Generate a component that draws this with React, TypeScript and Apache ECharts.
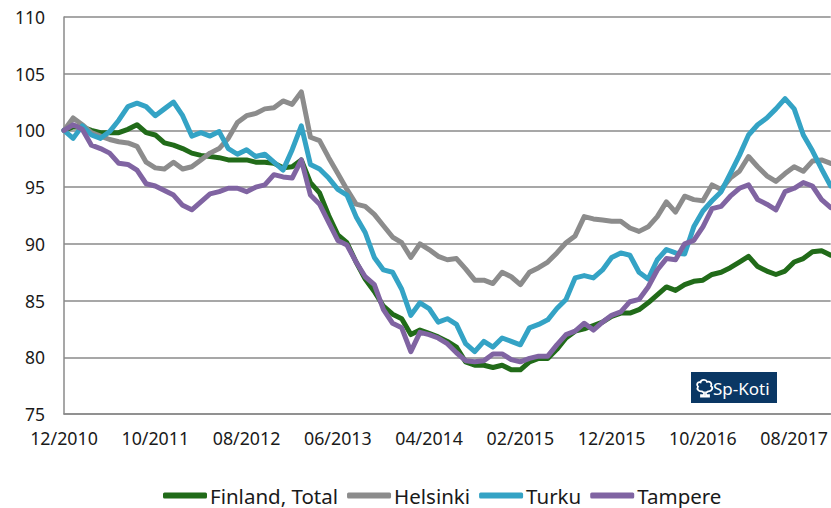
import React, { useEffect, useRef } from "react";
import * as echarts from "echarts";

// Months 12/2010 .. 12/2017
const startYear = 2010;
const startMonth = 12;
const monthCount = 85;
const categories: string[] = [];
for (let k = 0; k < monthCount; k++) {
  const m0 = startMonth - 1 + k;
  const y = startYear + Math.floor(m0 / 12);
  const m = (m0 % 12) + 1;
  categories.push((m < 10 ? "0" + m : "" + m) + "/" + y);
}

const yTicks = { min: 75, max: 110, step: 5 };

const finland = [
  100.0, 100.3, 100.3, 100.0, 99.8, 99.8, 99.8, 100.1, 100.5, 99.8,
  99.6, 98.9, 98.7, 98.4, 98.0, 97.8, 97.7, 97.6, 97.4, 97.4,
  97.4, 97.2, 97.2, 97.1, 96.7, 96.8, 97.4, 95.4, 94.5, 92.5,
  90.8, 90.1, 88.4, 86.9, 85.8, 84.5, 83.8, 83.4, 82.0, 82.4,
  82.1, 81.8, 81.4, 80.9, 79.6, 79.3, 79.3, 79.1, 79.3, 78.9,
  78.9, 79.6, 79.9, 79.9, 80.7, 81.7, 82.3, 82.5, 82.8, 83.1,
  83.6, 83.9, 83.9, 84.2, 84.8, 85.5, 86.2, 85.9, 86.4, 86.7,
  86.8, 87.3, 87.5, 87.9, 88.4, 88.9, 88.0, 87.6, 87.3, 87.6,
  88.4, 88.7, 89.3, 89.4, 89.0,
];

const helsinki = [
  100.0, 101.1, 100.5, 99.8, 99.5, 99.2, 99.0, 98.9, 98.6, 97.2,
  96.7, 96.6, 97.2, 96.6, 96.8, 97.4, 98.0, 98.4, 99.3, 100.7,
  101.3, 101.5, 101.9, 102.0, 102.6, 102.3, 103.4, 99.4, 99.1, 97.6,
  96.2, 94.8, 93.5, 93.3, 92.6, 91.6, 90.6, 90.1, 88.8, 90.0,
  89.5, 88.9, 88.6, 88.7, 87.8, 86.8, 86.8, 86.5, 87.5, 87.1,
  86.4, 87.5, 87.9, 88.4, 89.2, 90.1, 90.7, 92.4, 92.2, 92.1,
  92.0, 92.0, 91.4, 91.1, 91.5, 92.4, 93.7, 92.8, 94.2, 93.9,
  93.8, 95.2, 94.8, 95.8, 96.4, 97.7, 96.8, 96.0, 95.5, 96.2,
  96.8, 96.4, 97.3, 97.4, 97.1,
];

const turku = [
  100.0, 99.3, 100.4, 99.6, 99.3, 99.9, 100.9, 102.1, 102.4, 102.1,
  101.3, 101.9, 102.5, 101.3, 99.5, 99.8, 99.5, 99.9, 98.4, 97.9,
  98.3, 97.7, 97.9, 97.2, 96.5, 98.3, 100.4, 97.0, 96.6, 95.8,
  94.8, 94.3, 92.4, 91.0, 88.8, 87.7, 87.5, 86.0, 83.7, 84.8,
  84.3, 83.1, 83.4, 82.9, 81.2, 80.5, 81.4, 80.9, 81.7, 81.4,
  81.1, 82.6, 82.9, 83.3, 84.3, 85.1, 87.0, 87.2, 87.0, 87.7,
  88.8, 89.2, 89.0, 87.5, 86.9, 88.6, 89.5, 89.2, 89.1, 91.5,
  92.9, 93.8, 94.6, 96.2, 97.8, 99.6, 100.5, 101.1, 101.9, 102.8,
  101.9, 99.6, 98.2, 96.6, 95.1,
];

const tampere = [
  100.0, 100.5, 100.1, 98.7, 98.4, 98.0, 97.1, 97.0, 96.5, 95.3,
  95.1, 94.7, 94.3, 93.4, 93.0, 93.7, 94.4, 94.6, 94.9, 94.9,
  94.6, 95.0, 95.2, 96.1, 95.9, 95.8, 97.4, 94.3, 93.5, 91.9,
  90.3, 89.9, 88.4, 87.1, 86.4, 84.2, 83.0, 82.6, 80.5, 82.2,
  82.0, 81.7, 81.2, 80.4, 79.7, 79.6, 79.7, 80.3, 80.3, 79.8,
  79.6, 79.9, 80.1, 80.1, 81.1, 82.0, 82.3, 83.0, 82.4, 83.1,
  83.7, 84.0, 84.9, 85.1, 86.2, 87.7, 88.7, 88.6, 90.0, 90.3,
  91.5, 93.1, 93.3, 94.2, 94.9, 95.2, 93.9, 93.5, 93.0, 94.6,
  94.9, 95.4, 95.1, 93.9, 93.2,
];

const seriesNames = ["Finland, Total", "Helsinki", "Turku", "Tampere"];
const seriesColors = ["#216b19", "#8c8c8c", "#34a3c5", "#8064a2"];
const seriesData = [finland, helsinki, turku, tampere];

const logoPath =
  "M7 13 C3.5 13.5 1.5 10.5 3 8 C1 6 2.5 2.5 5.5 3.5 C6 0.5 11 0 12 3 C15 2 17.5 4.5 16 7.5 C18.5 9 17 13.5 13 13 C12 14 11.5 14 11 14 L11 17 L14 17 L14 18.5 L6 18.5 L6 17 L9 17 L9 14 C8.5 14 7.5 14 7 13 Z";

let registered = false;
function ensureShape() {
  if (registered) return;
  echarts.graphic.registerShape(
    "spkotiLogo",
    (echarts.graphic as any).extendPath(logoPath, {})
  );
  registered = true;
}

export default function App() {
  const ref = useRef<HTMLDivElement>(null);

  useEffect(() => {
    if (!ref.current) return;
    ensureShape();
    const chart = echarts.init(ref.current, undefined, { renderer: "svg" });
    const font = "Noto Sans";
    const gridColor = "#8a8a8a";
    chart.setOption({
      animation: false,
      backgroundColor: "#ffffff",
      textStyle: { fontFamily: font },
      grid: { left: 64, right: 0, top: 17, bottom: 94, containLabel: false },
      xAxis: {
        type: "category",
        data: categories,
        boundaryGap: false,
        axisLine: { show: true, lineStyle: { color: gridColor, width: 1.5 } },
        axisTick: { show: false },
        axisLabel: {
          interval: 9,
          margin: 15,
          fontSize: 17.8,
          color: "#1a1a1a",
          fontFamily: font,
          hideOverlap: false,
        },
        splitLine: { show: false },
      },
      yAxis: {
        type: "value",
        min: yTicks.min,
        max: yTicks.max,
        interval: yTicks.step,
        axisLine: { show: true, lineStyle: { color: gridColor, width: 1.5 } },
        axisTick: { show: false },
        axisLabel: {
          margin: 19,
          fontSize: 17.5,
          color: "#1a1a1a",
          fontFamily: font,
        },
        splitLine: { show: true, lineStyle: { color: gridColor, width: 1.5 } },
      },
      legend: {
        left: 163,
        top: 485,
        icon: "roundRect",
        itemWidth: 44,
        itemHeight: 6,
        itemGap: 9,
        padding: 0,
        textStyle: { fontSize: 20.5, color: "#1a1a1a", fontFamily: font, padding: [0, 0, 0, -2] },
        data: seriesNames,
      },
      series: seriesNames.map((name, idx) => ({
        name,
        type: "line",
        data: seriesData[idx],
        symbol: "none",
        color: seriesColors[idx],
        lineStyle: { width: 5, color: seriesColors[idx], cap: "round", join: "round" },
        z: 2 + idx,
      })),
      graphic: [
        {
          type: "group",
          left: 691,
          top: 372,
          children: [
            {
              type: "rect",
              shape: { x: 0, y: 0, width: 86, height: 31 },
              style: { fill: "#0a3764" },
            },
            {
              type: "spkotiLogo",
              x: 4,
              y: 7,
              scaleX: 1.0,
              scaleY: 0.95,
              style: { fill: "none", stroke: "#ffffff", lineWidth: 1.8 },
            },
            {
              type: "text",
              x: 22,
              y: 16,
              style: {
                text: "Sp-Koti",
                fill: "#ffffff",
                font: "17px 'Noto Sans'",
                verticalAlign: "middle",
              },
            },
          ],
        },
      ],
    });
    return () => chart.dispose();
  }, []);

  return (
    <div
      ref={ref}
      style={{ position: "fixed", left: 0, top: 0, width: 831, height: 508 }}
    />
  );
}
